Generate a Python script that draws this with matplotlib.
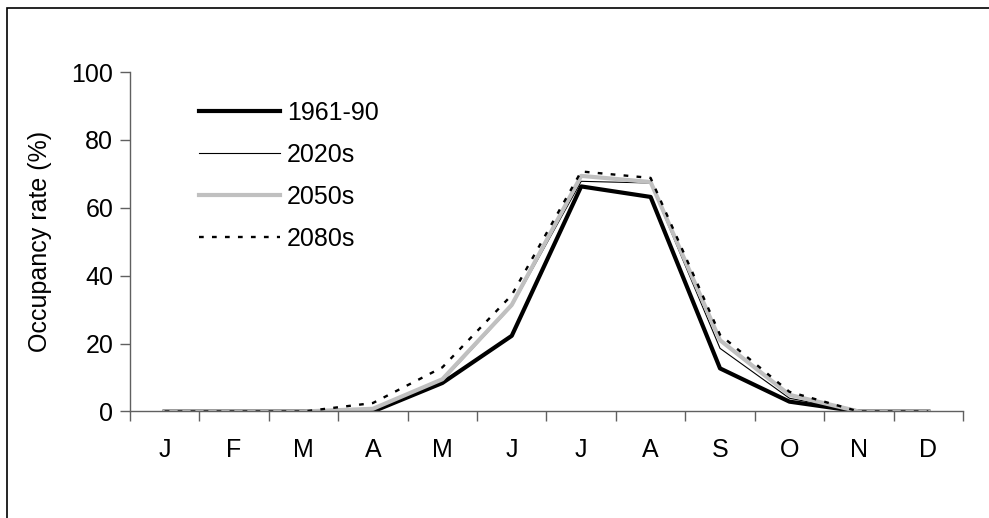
import matplotlib
matplotlib.use("Agg")
import matplotlib.pyplot as plt
from matplotlib.patches import Rectangle

# Monthly occupancy rate (%)
months = ["J", "F", "M", "A", "M", "J", "J", "A", "S", "O", "N", "D"]
occ_1961_90 = [0, 0, 0, 0, 8.4, 22.3, 66.3, 63.2, 12.7, 2.9, 0, 0]
occ_2020s = [0, 0, 0, 0.5, 9.0, 31.0, 67.8, 67.3, 18.6, 3.9, 0, 0]
occ_2050s = [0, 0, 0, 0.8, 9.5, 31.4, 69.4, 67.6, 21.0, 4.9, 0, 0]
occ_2080s = [0, 0, 0, 2.5, 13.0, 34.3, 70.7, 68.8, 22.6, 5.8, 0, 0]
y_ticks = [0, 20, 40, 60, 80, 100]

plt.rcParams["font.family"] = ["Liberation Sans", "DejaVu Sans"]
FS = 18

fig = plt.figure(figsize=(9.89, 5.18), dpi=100)
ax = fig.add_axes([0.1314, 0.2056, 0.8423, 0.6554])

x = list(range(len(months)))
ax.plot(x, occ_1961_90, color="black", lw=3.0, label="1961-90")
ax.plot(x, occ_2020s, color="black", lw=0.8, label="2020s")
ax.plot(x, occ_2050s, color="#c0c0c0", lw=3.0, label="2050s")
ax.plot(x, occ_2080s, color="black", lw=1.7, linestyle=(0, (2, 3.5)),
        label="2080s")

ax.set_xlim(-0.5, len(months) - 0.5)
ax.set_ylim(0, 100)

# y axis
ax.set_yticks(y_ticks)
ax.tick_params(axis="y", direction="out", length=7, width=1,
               color="#606060", labelsize=FS, pad=5)
ax.set_ylabel("Occupancy rate (%)", fontsize=FS)
ax.yaxis.set_label_coords(-0.094, 0.5)

# x axis: ticks between months, labels at month centres
ax.set_xticks([i - 0.5 for i in range(len(months) + 1)])
ax.set_xticklabels([])
ax.set_xticks(x, minor=True)
ax.set_xticklabels(months, minor=True)
ax.tick_params(axis="x", which="major", direction="out", length=7,
               width=1, color="#606060")
ax.tick_params(axis="x", which="minor", length=0, labelsize=FS, pad=19)

for side in ["top", "right"]:
    ax.spines[side].set_visible(False)
for side in ["left", "bottom"]:
    ax.spines[side].set_color("#606060")
    ax.spines[side].set_linewidth(1)

ax.legend(loc="upper left", bbox_to_anchor=(0.071, 0.9455), frameon=False,
          fontsize=FS, handlelength=3.24, handletextpad=0.28,
          labelspacing=0.72, borderaxespad=0)

# outer frame of the chart area
fig.patches.append(Rectangle((7 / 989, -0.2), 1.2, 1.2 - 8 / 518,
                             transform=fig.transFigure, fill=False,
                             edgecolor="black", lw=1.2))

fig.savefig("out.png", dpi=100)
